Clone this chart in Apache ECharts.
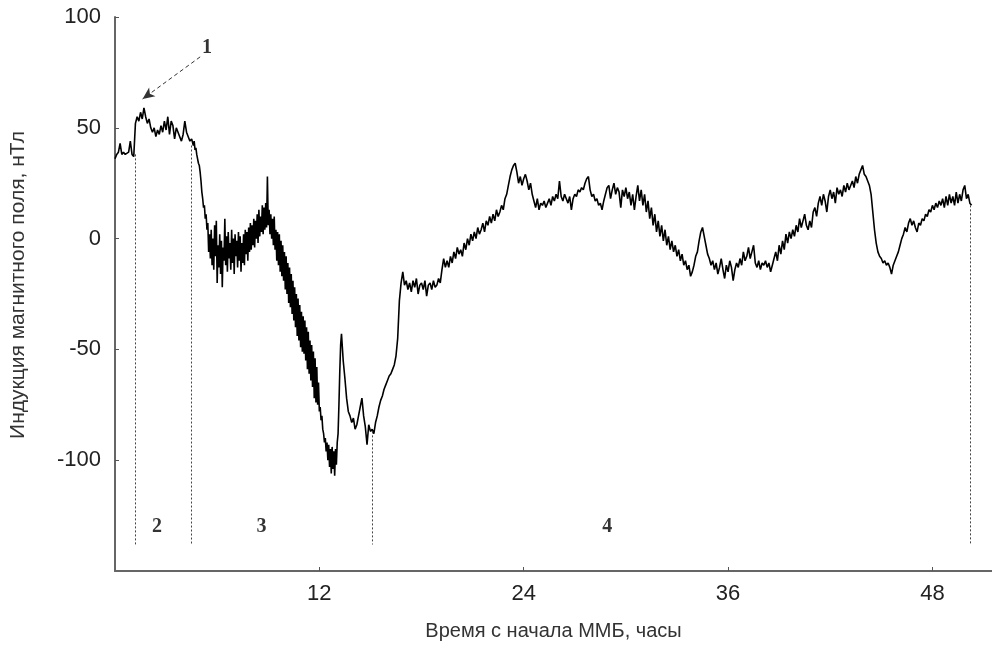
<!DOCTYPE html>
<html>
<head>
<meta charset="utf-8">
<script src="https://cdn.jsdelivr.net/npm/echarts@6/dist/echarts.min.js"></script>
<style>html,body{margin:0;padding:0;background:#fff;}#c{width:992px;height:646px;}</style>
</head>
<body>
<div id="c"></div>
<script>
// ---- Data (hours since start of storm, induction nT) ----
// Segment 1: pre-storm and sudden commencement, 0 .. 4.6 h, step 0.1 h
var seg1Start = 0, seg1Step = 0.1;
var seg1Values = [36,38,39,43,38,39,38,38,39,44,38,37,52,55,53,57,54,59,55,52,54,50,48,50,46,49,47,51,48,53,49,55,47,53,51,45,50,48,46,44,47,53,48,46,44,45,42];

// Segment 2: main phase (dense oscillations), 4.65 .. 13.30 h, step 0.05 h
var seg2Start = 4.65, seg2Step = 0.05;
var seg2Values = [44,40,41,38,36,34,33,30,26,21,18,14,15,9,11,4,7,-6,2,-9,4,-12,0,-14,6,-8,8,-20,-3,-13,2,-16,-1,-22,-4,-10,9,-12,1,-15,3,-9,-2,-14,4,-11,0,-16,2,-8,-1,-13,3,-10,1,-15,-2,-11,2,-12,4,-7,3,-10,5,-6,7,-5,6,-3,9,-4,8,0,11,-2,13,1,10,3,15,2,14,4,16,5,28,6,13,2,11,0,9,-3,10,-5,4,
  -10,3,-12,2,-15,-1,-17,-3,-19,-6,-23,-8,-25,-11,-29,-13,-31,-16,-34,-19,-37,-22,-40,-25,-44,-27,-46,-30,-49,-33,-51,-35,-52,-37,-55,-40,-59,-42,-61,-46,-64,-48,-67,-51,-72,-54,-74,-58,-75,-65,
  -78,-76,-82,-80,-86,-88,-92,-90,-96,-92,-100,-93,-103,-95,-106,-94,-104,-96,-107,-95,-102,-92,-88,-75,-60,-48,-43];

// Segment 3: end of main phase, 13.4 .. 19.4 h, step 0.1 h
var seg3Start = 13.4, seg3Step = 0.1;
var seg3Values = [-55,-63,-72,-78,-80,-83,-81,-86,-84,-80,-76,-72,-80,-85,-93,-84,-87,-86,-88,-83,-80,-76,-73,-71,-68,-66,-64,-62,-61,-59,-57,-53,-45,-28,-20,-15,-21,-19,-23,-20,-24,-19,-22,-18,-25,-21,-20,-23,-19,-26,-21,-20,-23,-19,-22,-21,-18,-20,-14,-9,-13];

// Segment 4: recovery phase, 19.5 .. 50.2 h, step 0.1 h
var seg4Start = 19.5, seg4Step = 0.1;
var seg4Values = [-10,-13,-8,-11,-6,-9,-4,-7,-5,-8,-2,-5,0,-3,2,-1,3,0,5,2,4,7,3,8,6,10,7,11,8,13,10,12,15,13,18,20,24,28,31,33,34,30,25,28,24,27,29,26,22,25,20,17,14,18,13,16,15,17,14,16,18,15,19,17,20,18,26,19,17,20,18,16,19,13,18,20,19,22,21,23,22,25,27,28,22,19,20,17,18,15,16,13,17,20,23,24,18,22,25,20,23,21,14,22,19,23,18,21,15,20,13,19,24,17,22,15,20,12,17,9,14,6,11,3,8,1,6,-1,4,-3,1,-5,-1,-6,-3,-8,-5,-10,-7,-12,-10,-14,-12,-17,-15,-12,-8,-6,-1,3,5,1,-3,-7,-9,-12,-10,-14,-11,-16,-13,-9,-14,-18,-12,-15,-10,-13,-19,-14,-11,-13,-9,-12,-6,-10,-8,-4,-9,-6,-3,-11,-13,-10,-14,-11,-12,-10,-13,-11,-15,-12,-9,-6,-10,-3,-7,-1,-5,2,-2,3,0,4,1,6,3,9,5,8,11,6,4,8,5,12,14,10,16,19,15,20,17,12,19,22,18,21,16,23,20,22,19,24,21,25,22,24,26,23,28,25,29,31,33,29,28,26,24,20,12,4,-2,-6,-8,-9,-11,-10,-12,-11,-13,-16,-12,-10,-8,-6,-3,0,2,5,3,7,9,6,8,5,3,7,6,9,8,11,10,13,12,15,13,16,14,17,15,18,14,19,15,20,16,19,15,21,16,20,17,22,24,18,20,16,15];

// Axis ticks
var xTicks = [12, 24, 36, 48];
var yTicks = [-100, -50, 0, 50, 100];

// Phase dividers (hours), top value of each dotted line, common bottom
var dividerHours = [1.17, 4.49, 15.08, 50.2];
var dividerTops = [38, 42, -87, 15];
var dividerBottom = -138;

// Phase labels
var phaseNames = ['1', '2', '3', '4'];
var phaseHours = [5.4, 2.46, 8.6, 28.9];
var phaseValues = [86, -130, -130, -130];

// Arrow from label 1 to the sudden commencement
var arrowFrom = [5.0, 82];
var arrowTo = [1.62, 63];

function buildSeg(start, step, vals) {
  var out = [];
  for (var i = 0; i < vals.length; i++) {
    out.push([Math.round((start + i * step) * 100) / 100, vals[i]]);
  }
  return out;
}
var lineData = [].concat(
  buildSeg(seg1Start, seg1Step, seg1Values),
  buildSeg(seg2Start, seg2Step, seg2Values),
  buildSeg(seg3Start, seg3Step, seg3Values),
  buildSeg(seg4Start, seg4Step, seg4Values)
);

var markLines = [];
for (var i = 0; i < dividerHours.length; i++) {
  markLines.push([{coord: [dividerHours[i], dividerTops[i]]}, {coord: [dividerHours[i], dividerBottom]}]);
}
markLines.push([
  {coord: arrowFrom, symbol: 'none', lineStyle: {type: [4, 3], color: '#333', width: 1}},
  {coord: arrowTo, symbol: 'arrow', symbolSize: [8, 12]}
]);

var labelData = [];
for (var j = 0; j < phaseNames.length; j++) {
  labelData.push({name: phaseNames[j], value: [phaseHours[j], phaseValues[j]]});
}

var chart = echarts.init(document.getElementById('c'), null, {renderer: 'canvas'});
chart.setOption({
  animation: false,
  backgroundColor: '#fff',
  grid: {left: 115, right: 0, top: 17, bottom: 74, containLabel: false},
  xAxis: {
    type: 'value', min: 0, max: 51.5, interval: 12,
    name: 'Время с начала ММБ, часы',
    nameLocation: 'middle', nameGap: 50,
    nameTextStyle: {fontFamily: 'Liberation Sans', fontSize: 20, color: '#333'},
    axisLine: {show: true, onZero: false, lineStyle: {color: '#666', width: 2}},
    axisTick: {show: true, inside: true, length: 4, lineStyle: {color: '#555'}, customValues: xTicks},
    axisLabel: {fontFamily: 'Liberation Sans', fontSize: 22, color: '#222', margin: 12, customValues: xTicks},
    splitLine: {show: false}
  },
  yAxis: {
    type: 'value', min: -150, max: 100, interval: 50,
    name: 'Индукция магнитного поля, нТл',
    nameLocation: 'middle', nameGap: 86, nameRotate: 90,
    nameTextStyle: {fontFamily: 'Liberation Sans', fontSize: 21, color: '#333', padding: [0, 0, 0, 18]},
    axisLine: {show: true, lineStyle: {color: '#666', width: 2}},
    axisTick: {show: true, inside: true, length: 4, lineStyle: {color: '#555'}, customValues: yTicks},
    axisLabel: {fontFamily: 'Liberation Sans', fontSize: 22, color: '#222', margin: 14, customValues: yTicks},
    splitLine: {show: false}
  },
  series: [
    {
      type: 'line',
      data: lineData,
      showSymbol: false,
      symbol: 'none',
      sampling: null,
      lineStyle: {color: '#000', width: 1.6},
      z: 3,
      markLine: {
        silent: true,
        symbol: ['none', 'none'],
        label: {show: false},
        lineStyle: {type: [2, 2], color: '#444', width: 1},
        animation: false,
        data: markLines
      }
    },
    {
      type: 'scatter',
      data: labelData,
      symbolSize: 0,
      silent: true,
      label: {
        show: true, position: 'inside', formatter: '{b}',
        fontFamily: 'Liberation Serif', fontWeight: 'bold', fontSize: 20, color: '#000'
      }
    }
  ]
});
</script>
</body>
</html>
